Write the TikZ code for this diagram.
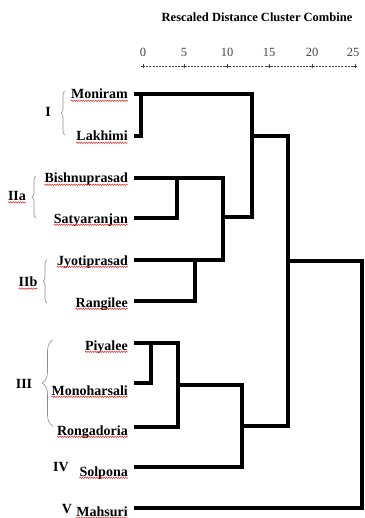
\documentclass[tikz,border=0pt]{standalone}
\usepackage{fontspec}
\setmainfont{Liberation Serif}
\usetikzlibrary{decorations.pathmorphing,decorations.pathreplacing}
\definecolor{ink}{HTML}{000000}
\definecolor{spellred}{HTML}{E32B2B}
\definecolor{bracegray}{HTML}{8C8C8C}
\definecolor{tickgray}{HTML}{454545}

\begin{document}
\begin{tikzpicture}[
  x=1pt, y=-1pt,
  dend/.style={line width=3.2pt, ink, line cap=rect},
  leaf/.style={font=\fontsize{14}{16}\selectfont\bfseries, anchor=base east, inner sep=0pt, text=ink},
  grp/.style={font=\fontsize{14}{16}\selectfont\bfseries, inner sep=0pt, text=ink},
  tick/.style={font=\fontsize{12.5}{14}\selectfont, inner sep=0pt, text=tickgray},
  gbrace/.style={decorate, decoration={brace, amplitude=#1}, bracegray, semithick},
  spell/.style={decorate, decoration={snake, amplitude=0.7pt, segment length=2.4pt}, spellred, line width=0.5pt}
]
  \useasboundingbox (0,0) rectangle (364,518);

  \node[font=\fontsize{12.5}{14}\selectfont\bfseries, text=ink] (title) at (257,17) {Rescaled Distance Cluster Combine};
  \draw[tickgray, line width=0.6pt, dash pattern=on 2pt off 1.2pt] (143,66) -- (355,66);
  \foreach \x/\v in {143/0,184/5,227/10,269/15,312/20,353/25} {
    \node[tick] (t\v) at (\x,52) {\v};
  }
  \foreach \x in {143,184,227,269,312,355} {
    \draw[tickgray, line width=0.7pt] (\x-2,66) -- (\x+2,66) (\x,64) -- (\x,68);
  }

  \node[leaf] (moniram) at (128,99) {Moniram};
  \node[leaf] (lakhimi) at (128,141) {Lakhimi};
  \node[leaf] (bishnuprasad) at (128,183) {Bishnuprasad};
  \node[leaf] (satyaranjan) at (128,223) {Satyaranjan};
  \node[leaf] (jyotiprasad) at (128,265) {Jyotiprasad};
  \node[leaf] (rangilee) at (128,307) {Rangilee};
  \node[leaf] (piyalee) at (128,350) {Piyalee};
  \node[leaf] (monoharsali) at (128,395) {Monoharsali};
  \node[leaf] (rongadoria) at (128,435) {Rongadoria};
  \node[leaf] (solpona) at (128,476) {Solpona};
  \node[leaf] (mahsuri) at (128,516) {Mahsuri};

  \node[grp] (gI) at (48,112) {I};
  \node[grp] (gIIa) at (17,196) {IIa};
  \node[grp] (gIIb) at (28,282) {IIb};
  \node[grp] (gIII) at (24,384) {III};
  \node[grp] (gIV) at (61,467) {IV};
  \node[grp] (gV) at (67,509) {V};

  \foreach \n in {moniram,lakhimi,bishnuprasad,satyaranjan,jyotiprasad,rangilee,piyalee,monoharsali,rongadoria,solpona,mahsuri,gIIa,gIIb} {
    \draw[spell] ([yshift=-1.8pt]\n.base west) -- ([yshift=-1.8pt]\n.base east);
  }

  \draw[gbrace=4pt] (65,135) -- (65,91);
  \draw[gbrace=4pt] (36,218) -- (36,176);
  \draw[gbrace=4pt] (47,303) -- (47,260);
  \draw[gbrace=11pt] (53,426) -- (53,340);

  \coordinate (moniram-l) at (136,94);
  \coordinate (lakhimi-l) at (136,136);
  \coordinate (bishnuprasad-l) at (136,178);
  \coordinate (satyaranjan-l) at (136,218);
  \coordinate (jyotiprasad-l) at (136,260);
  \coordinate (rangilee-l) at (136,301);
  \coordinate (piyalee-l) at (136,343);
  \coordinate (monoharsali-l) at (136,383);
  \coordinate (rongadoria-l) at (136,427);
  \coordinate (solpona-l) at (136,467);
  \coordinate (mahsuri-l) at (136,508);

  \coordinate (cI) at (141,94);
  \coordinate (cIIa) at (177,178);
  \coordinate (cIIb) at (195,260);
  \coordinate (cII) at (223,217);
  \coordinate (cIII) at (178,385);
  \coordinate (cIIIa) at (151,343);
  \coordinate (cIV) at (242,426);
  \coordinate (cTop) at (252,136);
  \coordinate (cAll) at (288,261);

  \draw[dend] (moniram-l) -| (252,217) -- (cII);
  \draw[dend] (lakhimi-l) -| (cI);
  \draw[dend] (bishnuprasad-l) -| (223,260);
  \draw[dend] (satyaranjan-l) -| (cIIa);
  \draw[dend] (jyotiprasad-l) -- (223,260);
  \draw[dend] (rangilee-l) -| (cIIb);
  \draw[dend] (piyalee-l) -| (178,427) -- (rongadoria-l);
  \draw[dend] (monoharsali-l) -| (cIIIa);
  \draw[dend] (cIII) -| (242,467) -- (solpona-l);
  \draw[dend] (cTop) -| (288,426) -- (cIV);
  \draw[dend] (mahsuri-l) -| (362,261) -- (cAll);
\end{tikzpicture}
\end{document}
